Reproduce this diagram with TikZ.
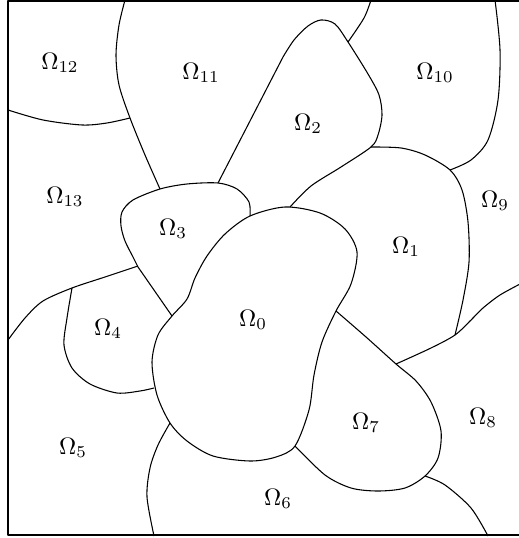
\documentclass[tikz,border=0pt]{standalone}
\usepackage{amsmath,amssymb}
\usepackage{tikz}

\begin{document}
\begin{tikzpicture}[x=0.42pt,y=-0.42pt,
  bd/.style={line width=0.45pt,line join=round},
  lb/.style={inner sep=0pt}]
\useasboundingbox (0,0) rectangle (518,538);
\draw[bd] (8,1) rectangle (522,535);
% subdomain boundaries
\draw[bd] plot[smooth cycle] coordinates {(285,207) (320,213) (345,229) (357,252) (351,284) (336,311)
  (322,342) (314,375) (309,410) (295,446) (276,457) (250,461) (213,456) (187,441) (170,423)
  (157,395) (152,362) (158,335) (172,316) (187,299) (195,278) (207,256) (225,234) (250,216)};
\draw[bd] plot[smooth] coordinates {(250,216) (249,202) (237,189) (218,183) (187,184) (160,189)
  (133,200) (122,212) (121,226) (125,241) (133,257) (138,267)} -- (172,316);
\draw[bd] (218,183) -- (283,57) plot[smooth] coordinates {(283,57) (294,40) (308,26) (321,20) (335,24)
  (348,42) (368,74) (379,95) (382,115) (378,135) (371,147) (341,167) (311,186) (290,207)};
\draw[bd] plot[smooth] coordinates {(371,147) (401,148) (425,155) (450,170) (462,190) (468,222)
  (469,262) (463,300) (455,335)};
\draw[bd] plot[smooth] coordinates {(522,283) (500,295) (483,308) (471,320) (455,335) (431,348) (396,364)};
\draw[bd] plot[smooth] coordinates {(336,311) (366,337) (396,364) (416,381) (431,402) (441,431)
  (438,458) (425,476) (405,488) (378,491) (351,488) (325,475) (295,446)};
\draw[bd] plot[smooth] coordinates {(348,42) (364,18) (371,0)};
\draw[bd] plot[smooth] coordinates {(495,0) (500,50) (498,100) (488,140) (471,160) (450,170)};
\draw[bd] plot[smooth] coordinates {(425,476) (445,485) (471,508) (488,536)};
\draw[bd] plot[smooth] coordinates {(170,423) (158,445) (150,468) (147,497) (154,536)};
\draw[bd] plot[smooth] coordinates {(72,288) (67,318) (64,345) (72,368) (90,384) (117,393) (140,391) (154,388)};
\draw[bd] plot[smooth] coordinates {(8,340) (25,318) (43,301) (72,288) (105,277) (138,266)};
\draw[bd] plot[smooth] coordinates {(125,0) (119,25) (116,55) (119,85) (130,118) (145,155) (160,189)};
\draw[bd] plot[smooth] coordinates {(8,110) (43,120) (82,125) (107,123) (130,118)};
% labels
\node[lb] (o0)  at (253,320) {$\Omega_0$};
\node[lb] (o1)  at (406,247) {$\Omega_1$};
\node[lb] (o2)  at (308,124) {$\Omega_2$};
\node[lb] (o3)  at (173,229) {$\Omega_3$};
\node[lb] (o4)  at (108,329) {$\Omega_4$};
\node[lb] (o5)  at (73,448)  {$\Omega_5$};
\node[lb] (o6)  at (278,499) {$\Omega_6$};
\node[lb] (o7)  at (366,423) {$\Omega_7$};
\node[lb] (o8)  at (483,418) {$\Omega_8$};
\node[lb] (o9)  at (495,201) {$\Omega_9$};
\node[lb] (o10) at (435,73)  {$\Omega_{10}$};
\node[lb] (o11) at (201,73)  {$\Omega_{11}$};
\node[lb] (o12) at (60,63)   {$\Omega_{12}$};
\node[lb] (o13) at (65,197)  {$\Omega_{13}$};
\end{tikzpicture}
\end{document}
